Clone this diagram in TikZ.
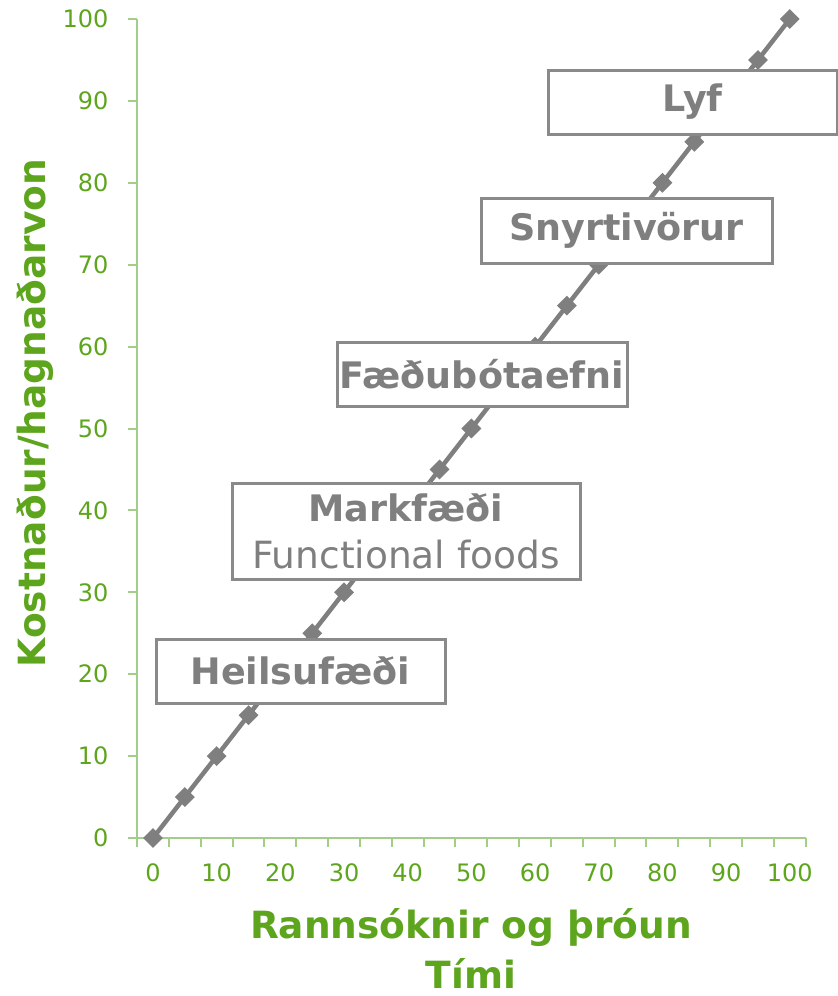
\documentclass[tikz,border=0pt]{standalone}
\usepackage{fontspec}
\setmainfont{DejaVu Sans}
\usetikzlibrary{shapes.geometric}
\definecolor{chartgreen}{HTML}{5EA51E}
\definecolor{axisgreen}{HTML}{A3CD8B}
\definecolor{seriesgray}{HTML}{7F7F7F}
\definecolor{boxgray}{HTML}{8A8A8A}

\begin{document}
\begin{tikzpicture}[x=1pt,y=-1pt,
    tick label/.style={text=chartgreen,font=\fontsize{24}{24}\selectfont},
    axis title/.style={text=chartgreen,font=\fontsize{37.5}{50}\selectfont\bfseries,align=center},
    marker/.style={diamond,fill=seriesgray,inner sep=0pt,minimum size=20pt},
    stage box/.style={draw=boxgray,line width=3pt,fill=white,text=seriesgray,
        font=\fontsize{36.5}{47}\selectfont\bfseries,align=center,inner sep=0pt}]
    \useasboundingbox (0,0) rectangle (838,996);
    % axes
    \draw[axisgreen,line width=2pt] (137,19) -- (137,847);
    \draw[axisgreen,line width=2pt] (128,838) -- (805.7,838);
    \foreach \v in {0,10,...,100}{
        \draw[axisgreen,line width=2pt] (128,{838-8.19*\v}) -- (137,{838-8.19*\v});
        \node[tick label,anchor=east] (ylab\v) at (112,{838-8.19*\v}) {\v};
    }
    \foreach \k in {1,...,21}
        \draw[axisgreen,line width=2pt] ({137+31.84*\k},838) -- ({137+31.84*\k},847);
    \foreach \v [count=\k from 0] in {0,10,...,100}
        \node[tick label] (xlab\v) at ({153+63.68*\k},873) {\v};
    % series
    \foreach \i in {0,...,20}
        \coordinate (p\i) at ({153+31.84*\i},{838-40.95*\i});
    \draw[seriesgray,line width=4.5pt] (p0) \foreach \i in {1,...,20}{ -- (p\i)};
    \foreach \i in {0,...,20}
        \node[marker] (m\i) at (p\i) {};
    % stages
    \node[stage box,minimum width=289pt,minimum height=64pt] (heilsu) at (300.5,671) {Heilsuf\ae\dh i};
    \node[stage box,minimum width=348pt,minimum height=96pt] (mark) at (406,531)
        {Markf\ae\dh i\\\fontsize{37.5}{47}\selectfont\mdseries Functional foods};
    \node[stage box,minimum width=290pt,minimum height=64pt] (faedu) at (482,374) {F\ae\dh ub\'otaefni};
    \node[stage box,minimum width=291pt,minimum height=65pt] (snyrti) at (626.5,230.5) {Snyrtiv\"orur};
    \node[stage box,minimum width=289pt,minimum height=64pt] (lyf) at (692.5,102) {Lyf};
    % titles
    \node[axis title] (xtitle) at (471,948) {Rannsóknir og þróun\\Tími};
    \node[axis title,rotate=90] (ytitle) at (35,413) {Kostnaður/hagnaðarvon};
\end{tikzpicture}
\end{document}
